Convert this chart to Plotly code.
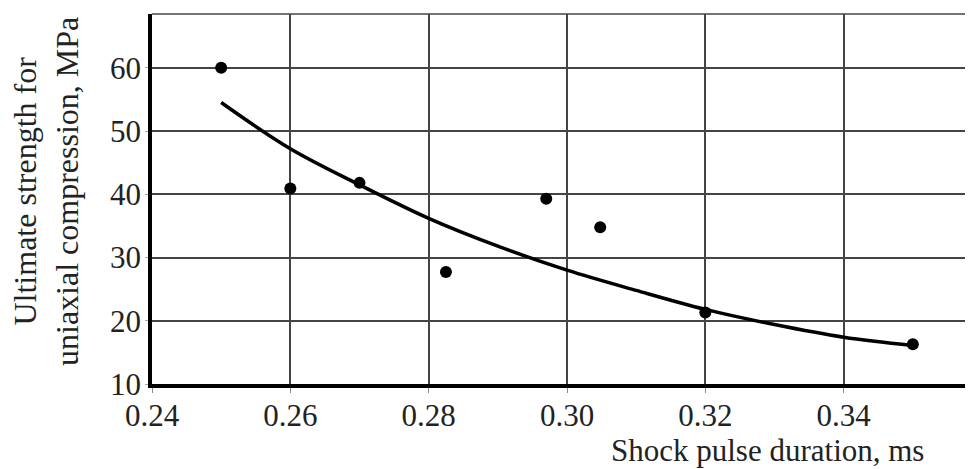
import plotly.graph_objects as go

# Measured points
pulse_ms = [0.250, 0.260, 0.270, 0.2825, 0.297, 0.3048, 0.320, 0.350]
strength_mpa = [60.0, 40.9, 41.8, 27.7, 39.3, 34.8, 21.3, 16.3]

# Fitted trend curve
fit_x = [0.25, 0.26, 0.27, 0.28, 0.29, 0.30, 0.31, 0.32, 0.33, 0.34, 0.35]
fit_y = [54.5, 47.2, 41.5, 36.2, 31.8, 28.0, 24.8, 21.8, 19.4, 17.4, 16.1]

x_ticks = [0.24, 0.26, 0.28, 0.30, 0.32, 0.34]
x_tick_labels = ["0.24", "0.26", "0.28", "0.30", "0.32", "0.34"]
y_ticks = [10, 20, 30, 40, 50, 60]

FONT = "Liberation Serif, Times New Roman, serif"
TXT = "#222"

fig = go.Figure()
fig.add_trace(go.Scatter(x=fit_x, y=fit_y, mode="lines",
                         line=dict(color="black", width=3.5, shape="spline"),
                         hoverinfo="skip"))
fig.add_trace(go.Scatter(x=pulse_ms, y=strength_mpa, mode="markers",
                         marker=dict(color="black", size=12, symbol="circle")))

# page has an 8px body margin, so the figure is compensated
fig.update_layout(
    width=965, height=461,
    margin=dict(l=144, r=0, t=6, b=85, autoexpand=False),
    paper_bgcolor="white", plot_bgcolor="white",
    showlegend=False,
    font=dict(family=FONT, color=TXT, size=31),
)
fig.update_xaxes(
    range=[0.24, 0.3587], tickvals=x_ticks, ticktext=x_tick_labels,
    showgrid=True, gridcolor="#444", gridwidth=1.5,
    showline=True, linecolor="black", linewidth=3.5,
    ticks="outside", ticklen=5, tickcolor="#888", tickwidth=1,
    ticklabelstandoff=-4,
    tickfont=dict(family=FONT, size=31, color=TXT),
    zeroline=False,
)
fig.update_yaxes(
    range=[10, 68.5], tickvals=y_ticks,
    showgrid=True, gridcolor="#444", gridwidth=1.5,
    showline=True, linecolor="black", linewidth=3.5,
    ticks="outside", ticklen=3, tickcolor="#aaa", tickwidth=1,
    ticklabelstandoff=-2,
    tickfont=dict(family=FONT, size=31, color=TXT),
    zeroline=False,
)
# top border
fig.add_shape(type="line", xref="paper", yref="paper", x0=0, x1=1, y0=1, y1=1,
              line=dict(color="#444", width=1.5))
fig.add_annotation(text="Ultimate strength for<br>uniaxial compression, MPa",
                   xref="paper", yref="paper", x=0, y=0.519,
                   xanchor="center", yanchor="middle", xshift=-106,
                   textangle=-90, showarrow=False,
                   font=dict(family=FONT, size=32, color=TXT))
fig.add_annotation(text="Shock pulse duration, ms", xref="paper", yref="paper",
                   x=0.7497, y=0, xanchor="center", yanchor="middle", yshift=-66,
                   showarrow=False, font=dict(family=FONT, size=31, color=TXT))

fig.write_html("out.html")
